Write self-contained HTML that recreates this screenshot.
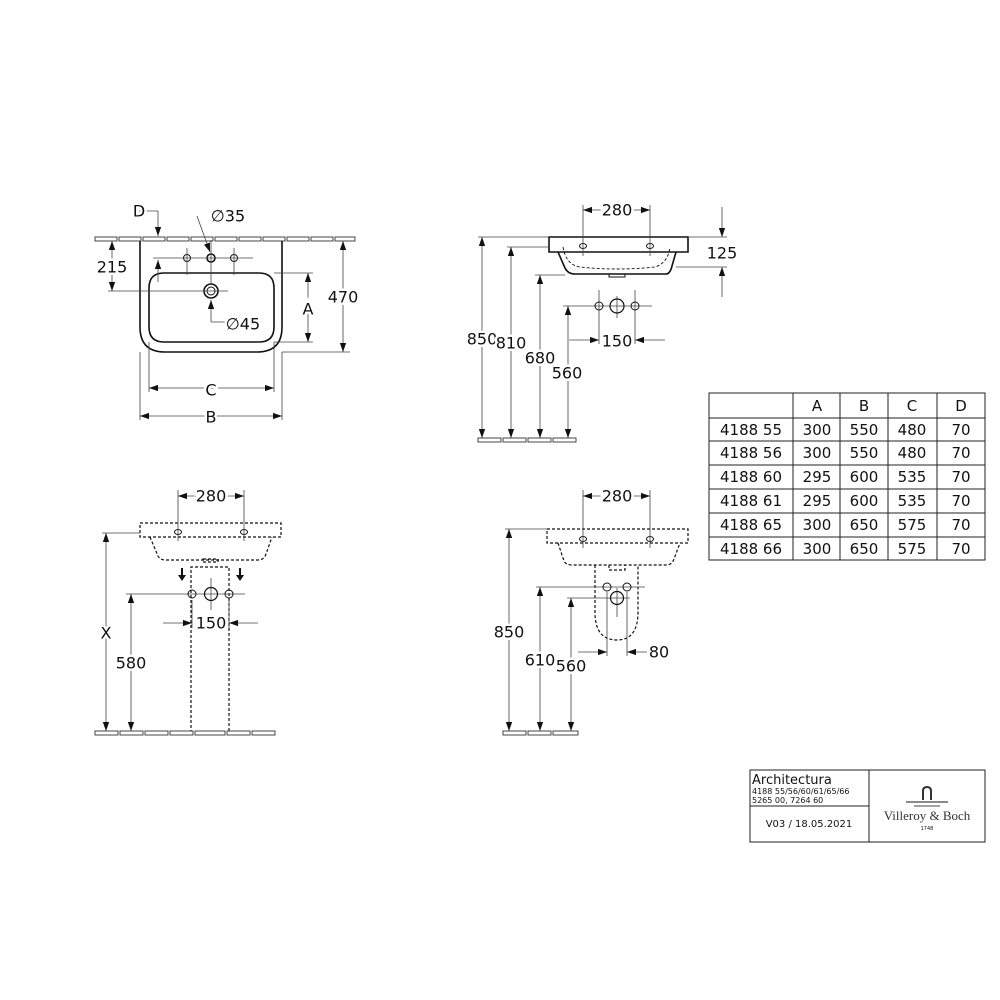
<!DOCTYPE html>
<html><head><meta charset="utf-8"><style>
html,body{margin:0;padding:0;background:#fff;}
svg{display:block}
text{font-family:"DejaVu Sans","Liberation Sans",sans-serif;fill:#111;}
.t{font-size:16px;text-anchor:middle;dominant-baseline:central;stroke:#fff;stroke-width:5px;paint-order:stroke;}
.d{stroke:#444;stroke-width:0.8;fill:none}
.o{stroke:#111;stroke-width:1.6;fill:none}
.h{stroke:#111;stroke-width:1.2;fill:none;stroke-dasharray:3 2}
.f{stroke:#333;stroke-width:0.9;fill:#fff}
</style></head><body>
<svg width="1000" height="1000" viewBox="0 0 1000 1000" xmlns="http://www.w3.org/2000/svg">
<defs>
<marker id="a" viewBox="0 0 10 10" refX="10" refY="5" markerWidth="9" markerHeight="9" orient="auto-start-reverse" markerUnits="userSpaceOnUse"><path d="M0,1.5 L10,5 L0,8.5 z" fill="#111"/></marker>
</defs>

<!-- ========== TOP LEFT ========== -->
<g class="f">
<rect x="95" y="237" width="22" height="4"/><rect x="119" y="237" width="22" height="4"/><rect x="143" y="237" width="22" height="4"/><rect x="167" y="237" width="22" height="4"/><rect x="191" y="237" width="22" height="4"/><rect x="215" y="237" width="22" height="4"/><rect x="239" y="237" width="22" height="4"/><rect x="263" y="237" width="22" height="4"/><rect x="287" y="237" width="22" height="4"/><rect x="311" y="237" width="22" height="4"/><rect x="335" y="237" width="20" height="4"/>
</g>
<path class="o" d="M140,241 V327 Q140,352 165,352 H257 Q282,352 282,327 V241"/>
<path class="o" d="M164,273 H259 Q274,273 274,288 V327 Q274,342 259,342 H164 Q149,342 149,327 V288 Q149,273 164,273 Z"/>
<circle class="o" cx="187" cy="258" r="3.5" style="stroke-width:1"/>
<circle class="o" cx="211" cy="258" r="4"/>
<circle class="o" cx="234" cy="258" r="3.5" style="stroke-width:1"/>
<circle class="o" cx="211" cy="291" r="7"/><circle class="o" cx="211" cy="291" r="4" style="stroke-width:1"/>
<g class="d">
<line x1="153" y1="258" x2="253" y2="258"/>
<line x1="187" y1="248" x2="187" y2="275"/><line x1="234" y1="248" x2="234" y2="275"/>
<line x1="211" y1="240" x2="211" y2="285"/>
<line x1="108" y1="291" x2="228" y2="291"/>
<line x1="139" y1="211" x2="158" y2="211"/><line x1="158" y1="211" x2="158" y2="236" marker-end="url(#a)"/>
<line x1="158" y1="282" x2="158" y2="260" marker-end="url(#a)"/>
<line x1="197" y1="216" x2="210" y2="252" marker-end="url(#a)"/>
<line x1="211" y1="322" x2="211" y2="300" marker-end="url(#a)"/><line x1="211" y1="322" x2="232" y2="322"/>
<line x1="112" y1="241" x2="112" y2="291" marker-start="url(#a)" marker-end="url(#a)"/>
<line x1="274" y1="273" x2="313" y2="273"/><line x1="274" y1="342" x2="313" y2="342"/>
<line x1="308" y1="273" x2="308" y2="342" marker-start="url(#a)" marker-end="url(#a)"/>
<line x1="282" y1="352" x2="350" y2="352"/>
<line x1="343" y1="241" x2="343" y2="352" marker-start="url(#a)" marker-end="url(#a)"/>
<line x1="149" y1="342" x2="149" y2="392"/><line x1="274" y1="342" x2="274" y2="392"/>
<line x1="149" y1="388" x2="274" y2="388" marker-start="url(#a)" marker-end="url(#a)"/>
<line x1="140" y1="352" x2="140" y2="420"/><line x1="282" y1="352" x2="282" y2="420"/>
<line x1="140" y1="416" x2="282" y2="416" marker-start="url(#a)" marker-end="url(#a)"/>
</g>
<text class="t" x="139" y="211">D</text>
<text class="t" x="228" y="216">∅35</text>
<text class="t" x="112" y="267">215</text>
<text class="t" x="308" y="309">A</text>
<text class="t" x="343" y="297">470</text>
<text class="t" x="243" y="324">∅45</text>
<text class="t" x="211" y="390">C</text>
<text class="t" x="211" y="417">B</text>

<!-- ========== TOP RIGHT ========== -->
<path class="o" d="M549,237 H688 V252 H549 Z"/>
<path class="o" d="M558,252 L565,268 Q568,274 575,274 H666 Q670,274 672,266 L676,252"/>
<path class="h" d="M563,247 Q566,265 580,267 Q617,271 655,267 Q668,263 670,247" style="stroke-width:0.9"/>
<rect x="609" y="274" width="16" height="3" class="o" style="stroke-width:1"/>
<ellipse class="o" cx="583" cy="246" rx="3.5" ry="2.5" style="stroke-width:1"/>
<ellipse class="o" cx="650" cy="246" rx="3.5" ry="2.5" style="stroke-width:1"/>
<g class="f">
<rect x="478" y="438" width="23" height="4"/><rect x="503" y="438" width="23" height="4"/><rect x="528" y="438" width="23" height="4"/><rect x="553" y="438" width="23" height="4"/>
</g>
<g class="d">
<line x1="583" y1="205" x2="583" y2="256"/><line x1="650" y1="205" x2="650" y2="256"/>
<line x1="601" y1="210" x2="583" y2="210" marker-end="url(#a)"/><line x1="633" y1="210" x2="650" y2="210" marker-end="url(#a)"/>
<line x1="478" y1="237" x2="549" y2="237"/><line x1="688" y1="237" x2="727" y2="237"/>
<line x1="676" y1="267" x2="727" y2="267"/>
<line x1="722" y1="207" x2="722" y2="237" marker-end="url(#a)"/><line x1="722" y1="297" x2="722" y2="267" marker-end="url(#a)"/>
<line x1="507" y1="247" x2="549" y2="247"/><line x1="535" y1="275" x2="565" y2="275"/>
<line x1="482" y1="237" x2="482" y2="438" marker-start="url(#a)" marker-end="url(#a)"/>
<line x1="511" y1="247" x2="511" y2="438" marker-start="url(#a)" marker-end="url(#a)"/>
<line x1="540" y1="275" x2="540" y2="438" marker-start="url(#a)" marker-end="url(#a)"/>
<line x1="563" y1="306" x2="652" y2="306"/>
<line x1="568" y1="306" x2="568" y2="438" marker-start="url(#a)" marker-end="url(#a)"/>
<line x1="599" y1="290" x2="599" y2="344"/><line x1="635" y1="290" x2="635" y2="344"/><line x1="617" y1="296" x2="617" y2="318"/>
<line x1="569" y1="340" x2="599" y2="340" marker-end="url(#a)"/><line x1="665" y1="340" x2="635" y2="340" marker-end="url(#a)"/>
</g>
<circle class="o" cx="599" cy="306" r="4" style="stroke-width:1"/>
<circle class="o" cx="617" cy="306" r="7" style="stroke-width:1.2"/>
<circle class="o" cx="635" cy="306" r="4" style="stroke-width:1"/>
<text class="t" x="617" y="210">280</text>
<text class="t" x="722" y="253">125</text>
<text class="t" x="482" y="339">850</text>
<text class="t" x="511" y="343">810</text>
<text class="t" x="540" y="358">680</text>
<text class="t" x="567" y="373">560</text>
<text class="t" x="617" y="341">150</text>

<!-- ========== TABLE ========== -->
<g stroke="#222" stroke-width="1" fill="none">
<rect x="709" y="393" width="276" height="167"/>
<line x1="709" y1="418" x2="985" y2="418"/><line x1="709" y1="441" x2="985" y2="441"/><line x1="709" y1="465" x2="985" y2="465"/><line x1="709" y1="489" x2="985" y2="489"/><line x1="709" y1="513" x2="985" y2="513"/><line x1="709" y1="537" x2="985" y2="537"/>
<line x1="793" y1="393" x2="793" y2="560"/><line x1="840" y1="393" x2="840" y2="560"/><line x1="888" y1="393" x2="888" y2="560"/><line x1="937" y1="393" x2="937" y2="560"/>
</g>
<g style="font-size:15px;text-anchor:middle;dominant-baseline:central">
<text x="817" y="406">A</text><text x="864" y="406">B</text><text x="912" y="406">C</text><text x="961" y="406">D</text>
<text x="751" y="430">4188 55</text><text x="817" y="430">300</text><text x="864" y="430">550</text><text x="912" y="430">480</text><text x="961" y="430">70</text>
<text x="751" y="453">4188 56</text><text x="817" y="453">300</text><text x="864" y="453">550</text><text x="912" y="453">480</text><text x="961" y="453">70</text>
<text x="751" y="477">4188 60</text><text x="817" y="477">295</text><text x="864" y="477">600</text><text x="912" y="477">535</text><text x="961" y="477">70</text>
<text x="751" y="501">4188 61</text><text x="817" y="501">295</text><text x="864" y="501">600</text><text x="912" y="501">535</text><text x="961" y="501">70</text>
<text x="751" y="525">4188 65</text><text x="817" y="525">300</text><text x="864" y="525">650</text><text x="912" y="525">575</text><text x="961" y="525">70</text>
<text x="751" y="549">4188 66</text><text x="817" y="549">300</text><text x="864" y="549">650</text><text x="912" y="549">575</text><text x="961" y="549">70</text>
</g>

<!-- ========== BOTTOM LEFT ========== -->
<path class="h" d="M140,523 H281 V537 H140 Z"/>
<path class="h" d="M150,537 L158,556 Q160,560 166,560 H258 Q264,560 266,554 L272,537"/>
<rect x="203" y="559" width="15" height="3" class="h"/>
<path class="h" d="M191,733 V567 H229 V733"/>
<ellipse class="o" cx="178" cy="532" rx="3.5" ry="2.5" style="stroke-width:1"/>
<ellipse class="o" cx="244" cy="532" rx="3.5" ry="2.5" style="stroke-width:1"/>
<g class="f">
<rect x="95" y="731" width="23" height="4"/><rect x="120" y="731" width="23" height="4"/><rect x="145" y="731" width="23" height="4"/><rect x="170" y="731" width="23" height="4"/><rect x="195" y="731" width="30" height="4"/><rect x="227" y="731" width="23" height="4"/><rect x="252" y="731" width="23" height="4"/>
</g>
<g class="d">
<line x1="178" y1="490" x2="178" y2="541"/><line x1="244" y1="490" x2="244" y2="541"/>
<line x1="196" y1="496" x2="178" y2="496" marker-end="url(#a)"/><line x1="227" y1="496" x2="244" y2="496" marker-end="url(#a)"/>
<line x1="102" y1="533" x2="140" y2="533"/>
<line x1="106" y1="533" x2="106" y2="731" marker-start="url(#a)" marker-end="url(#a)"/>
<line x1="126" y1="594" x2="245" y2="594"/>
<line x1="131" y1="594" x2="131" y2="731" marker-start="url(#a)" marker-end="url(#a)"/>
<line x1="211" y1="578" x2="211" y2="610"/>
<line x1="192" y1="600" x2="192" y2="628"/><line x1="229" y1="600" x2="229" y2="628"/>
<line x1="163" y1="623" x2="192" y2="623" marker-end="url(#a)"/><line x1="258" y1="623" x2="229" y2="623" marker-end="url(#a)"/>
</g>
<path d="M182,568 V577" stroke="#111" stroke-width="2"/><path d="M178,575 L186,575 L182,581 z" fill="#111"/>
<path d="M240,568 V577" stroke="#111" stroke-width="2"/><path d="M236,575 L244,575 L240,581 z" fill="#111"/>
<circle class="o" cx="192" cy="594" r="4" style="stroke-width:1"/>
<circle class="o" cx="211" cy="594" r="6.5" style="stroke-width:1.2"/>
<circle class="o" cx="229" cy="594" r="4" style="stroke-width:1"/>
<text class="t" x="211" y="496">280</text>
<text class="t" x="106" y="633">X</text>
<text class="t" x="131" y="663">580</text>
<text class="t" x="211" y="623">150</text>

<!-- ========== BOTTOM RIGHT ========== -->
<path class="h" d="M547,529 H688 V543 H547 Z"/>
<path class="h" d="M558,543 L564,561 Q566,565 572,565 H666 Q672,565 674,559 L680,543"/>
<path class="h" d="M595,565 V612 Q595,640 617,640 Q638,640 638,612 V565"/>
<path class="h" d="M609,565 V570 H625 V565"/>
<ellipse class="o" cx="583" cy="539" rx="3.5" ry="2.5" style="stroke-width:1"/>
<ellipse class="o" cx="650" cy="539" rx="3.5" ry="2.5" style="stroke-width:1"/>
<g class="f">
<rect x="503" y="731" width="23" height="4"/><rect x="528" y="731" width="23" height="4"/><rect x="553" y="731" width="25" height="4"/>
</g>
<g class="d">
<line x1="583" y1="490" x2="583" y2="548"/><line x1="650" y1="490" x2="650" y2="548"/>
<line x1="601" y1="496" x2="583" y2="496" marker-end="url(#a)"/><line x1="633" y1="496" x2="650" y2="496" marker-end="url(#a)"/>
<line x1="505" y1="529" x2="547" y2="529"/>
<line x1="509" y1="529" x2="509" y2="731" marker-start="url(#a)" marker-end="url(#a)"/>
<line x1="536" y1="587" x2="645" y2="587"/>
<line x1="540" y1="587" x2="540" y2="731" marker-start="url(#a)" marker-end="url(#a)"/>
<line x1="567" y1="598" x2="630" y2="598"/>
<line x1="571" y1="598" x2="571" y2="731" marker-start="url(#a)" marker-end="url(#a)"/>
<line x1="617" y1="588" x2="617" y2="617"/>
<line x1="607" y1="592" x2="607" y2="656"/><line x1="627" y1="592" x2="627" y2="656"/>
<line x1="578" y1="652" x2="607" y2="652" marker-end="url(#a)"/><line x1="647" y1="652" x2="627" y2="652" marker-end="url(#a)"/>
</g>
<circle class="o" cx="607" cy="587" r="4" style="stroke-width:1"/>
<circle class="o" cx="627" cy="587" r="4" style="stroke-width:1"/>
<circle class="o" cx="617" cy="598" r="6.5" style="stroke-width:1.2"/>
<text class="t" x="617" y="496">280</text>
<text class="t" x="509" y="632">850</text>
<text class="t" x="540" y="660">610</text>
<text class="t" x="571" y="666">560</text>
<text class="t" x="659" y="652">80</text>

<!-- ========== TITLE BLOCK ========== -->
<g stroke="#222" stroke-width="1" fill="none">
<rect x="750" y="770" width="235" height="72"/>
<line x1="869" y1="770" x2="869" y2="842"/>
<line x1="750" y1="806" x2="869" y2="806"/>
</g>
<text x="752" y="784" style="font-size:13px">Architectura</text>
<text x="752" y="794" style="font-size:8px">4188 55/56/60/61/65/66</text>
<text x="752" y="803" style="font-size:8px">5265 00, 7264 60</text>
<text x="809" y="827" style="font-size:10px;text-anchor:middle">V03 / 18.05.2021</text>
<path d="M923,800 V791 Q923,787 927,787 Q931,787 931,791 V800" stroke="#333" stroke-width="2" fill="none"/>
<line x1="906" y1="802" x2="948" y2="802" stroke="#444" stroke-width="1.2"/>
<line x1="914" y1="806" x2="940" y2="806" stroke="#444" stroke-width="1"/>
<text x="927" y="820" style="font-size:13px;text-anchor:middle;font-family:'Liberation Serif',serif;fill:#333">Villeroy &amp; Boch</text>
<text x="927" y="830" style="font-size:5px;text-anchor:middle">1748</text>
</svg>
</body></html>
